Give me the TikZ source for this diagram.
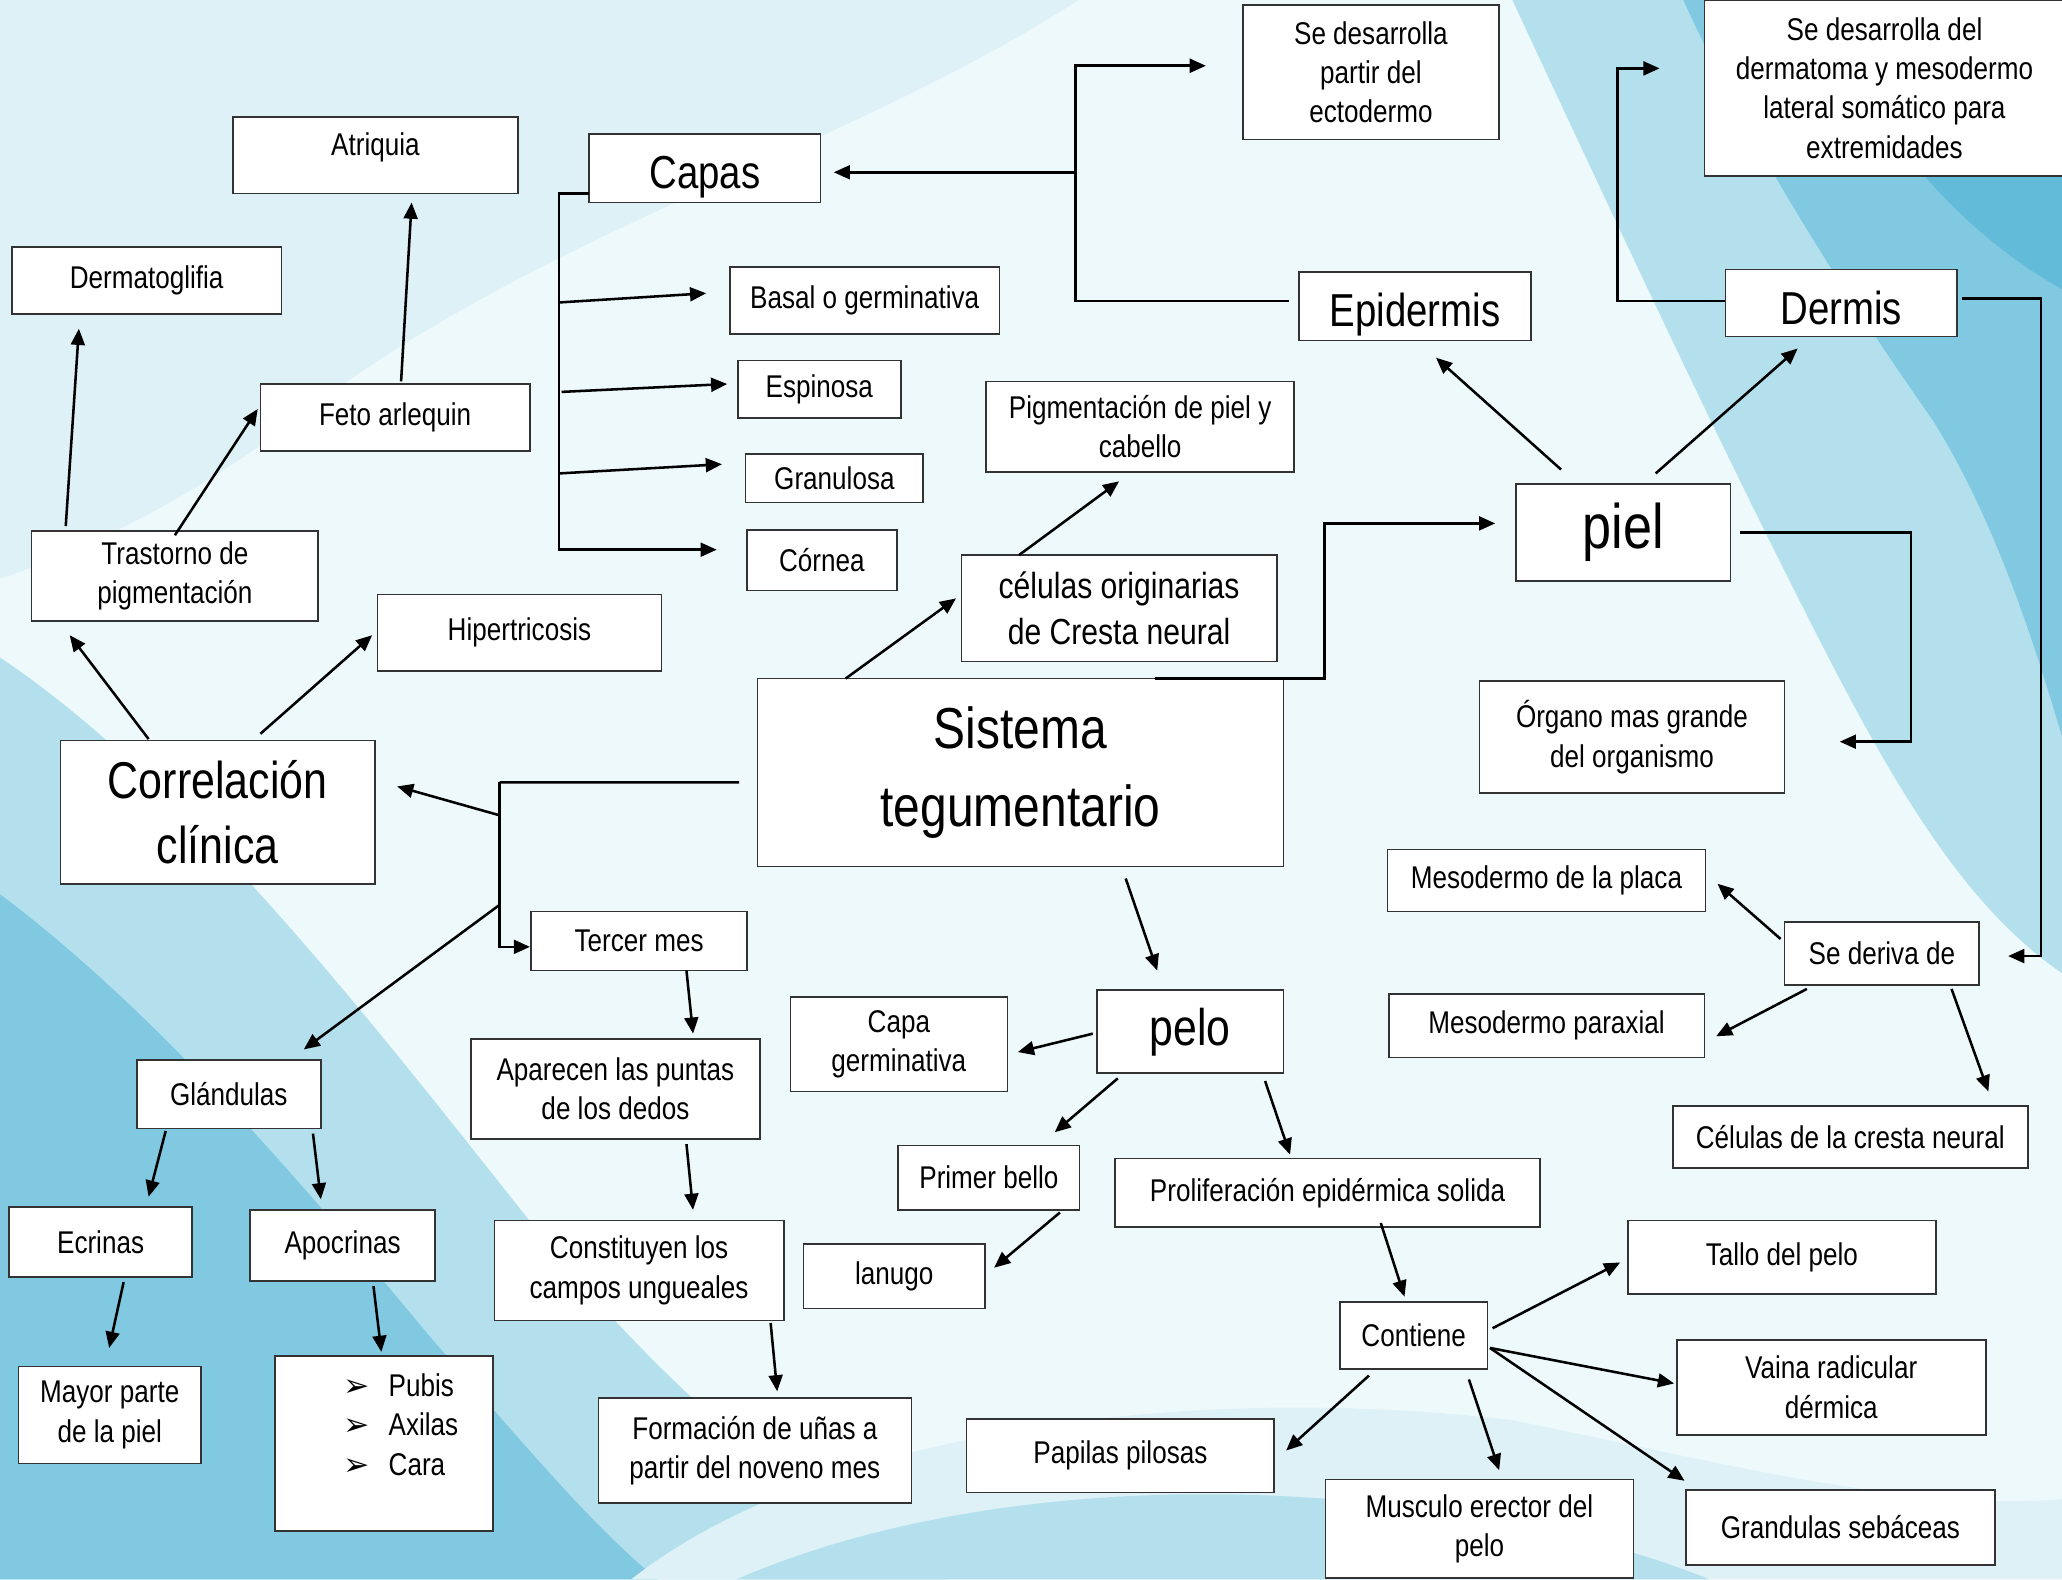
\documentclass[tikz,border=0pt]{standalone}
\usepackage{fontspec}
\setmainfont[FakeStretch=0.83]{Liberation Sans}
\newfontfamily\symfont{DejaVu Sans}
\usetikzlibrary{arrows.meta,calc}

\newlength\pxu
\setlength\pxu{0.02cm}

\definecolor{agua0}{HTML}{EEF9FC}
\definecolor{agua1}{HTML}{DDF1F7}
\definecolor{agua2}{HTML}{B4E0EE}
\definecolor{agua3}{HTML}{80C9E1}
\definecolor{agua4}{HTML}{62BBD9}

\tikzset{
  box/.style={draw=black!80, fill=white, line width=0.7pt, inner sep=0pt, align=center,
    font=\fontsize{13.6}{17}\selectfont},
  sz/.style 2 args={minimum width=#1\pxu, minimum height=#2\pxu},
  tb/.style 2 args={text height=#1\pxu, text depth=#2\pxu},
  med/.style={font=\fontsize{15.7}{19.8}\selectfont},
  big/.style={font=\fontsize{20}{24}\selectfont},
  huge/.style={font=\fontsize{22.4}{28.3}\selectfont},
  top/.style={font=\fontsize{25}{34}\selectfont},
  arr/.style={line width=1.1pt, -{Triangle[length=7pt,width=6pt]}},
  ln/.style={line width=1.1pt}
}

\begin{document}
\begin{tikzpicture}[x=0.02cm, y=-0.02cm]
\useasboundingbox (0,0) rectangle (1568,1201);

% fondo acuarela
\fill[agua0] (0,0) rectangle (1568,1201);
\fill[agua1] (0,0) -- (820,0) .. controls (650,110) and (430,170) .. (250,300) .. controls (150,380) and (60,420) .. (0,440) -- cycle;
\fill[agua2] (1150,0) .. controls (1220,150) and (1290,300) .. (1350,420) .. controls (1420,560) and (1480,680) .. (1568,740) -- (1568,0) -- cycle;
\fill[agua3] (1280,0) .. controls (1330,110) and (1400,220) .. (1470,320) .. controls (1520,400) and (1550,500) .. (1568,560) -- (1568,0) -- cycle;
\fill[agua4] (1380,0) .. controls (1420,90) and (1480,170) .. (1568,220) -- (1568,0) -- cycle;
\fill[agua2] (0,500) .. controls (150,600) and (300,800) .. (420,950) .. controls (520,1070) and (620,1150) .. (720,1201) -- (0,1201) -- cycle;
\fill[agua3] (0,680) .. controls (120,770) and (230,900) .. (330,1020) .. controls (400,1100) and (450,1160) .. (500,1201) -- (0,1201) -- cycle;
\fill[agua1] (480,1201) .. controls (620,1090) and (900,1050) .. (1150,1080) .. controls (1300,1110) and (1450,1150) .. (1568,1140) -- (1568,1201) -- cycle;
\fill[agua2] (560,1201) .. controls (700,1140) and (900,1120) .. (1100,1150) .. controls (1200,1165) and (1260,1185) .. (1300,1201) -- cycle;

% centro
\node[box, top, sz={400}{143}] (sist) at (776,587.5) {Sistema\\tegumentario};

% piel
\node[box, font=\fontsize{27.2}{30}\selectfont, sz={163}{74}] (piel) at (1234.5,405) {piel};
\node[box, big, minimum width=176\pxu, tb={41.5}{10.5}] (epid) at (1076,233) {Epidermis};
\node[box, big, minimum width=176\pxu, tb={41.5}{9.5}] (dermis) at (1400,230.5) {Dermis};
\node[box, sz={195}{102}] (ecto) at (1042.5,55) {Se desarrolla\\partir del\\ectodermo};
\node[box, sz={274}{134}] (dermato) at (1433,67) {Se desarrolla del\\dermatoma y mesodermo\\lateral somático para\\extremidades};
\node[box, sz={232}{85}] (organo) at (1241,560.5) {Órgano mas grande\\del organismo};
\node[box, sz={148}{48}] (deriva) at (1431,725) {Se deriva de};
\node[box, sz={242}{47}] (mplaca) at (1176,669.5) {Mesodermo de la placa};
\node[box, sz={240}{48}] (mparax) at (1176,780) {Mesodermo paraxial};
\node[box, sz={270}{47}] (ccresta) at (1407,864.5) {Células de la cresta neural};

% capas
\node[box, big, minimum width=176\pxu, tb={41.5}{10.5}] (capas) at (536,128) {Capas};
\node[box, sz={205}{51}] (basal) at (657.5,228.5) {Basal o germinativa};
\node[box, sz={124}{44}] (espin) at (623,296) {Espinosa};
\node[box, sz={135}{37}] (granu) at (634.5,363.5) {Granulosa};
\node[box, sz={114}{46}] (cornea) at (625,426) {Córnea};

% cresta neural
\node[box, med, sz={240}{81}] (cresta) at (851,462.5) {células originarias\\de Cresta neural};
\node[box, sz={234}{69}] (pigm) at (867,324.5) {Pigmentación de piel y\\cabello};

% correlacion clinica
\node[box, huge, sz={239}{109}] (correl) at (165.5,617.5) {Correlación\\clínica};
\node[box, sz={218}{68}] (trast) at (133,438) {Trastorno de\\pigmentación};
\node[box, sz={216}{58}] (hiper) at (395,481) {Hipertricosis};
\node[box, sz={205}{51}] (dglif) at (111.5,213.5) {Dermatoglifia};
\node[box, sz={205}{51}] (feto) at (300.5,317.5) {Feto arlequin};
\node[box, minimum width=217\pxu, tb={29}{29}] (atr) at (285.5,118) {Atriquia};

% glandulas
\node[box, sz={140}{52}] (gland) at (174,832) {Glándulas};
\node[box, sz={139}{53}] (ecrin) at (76.5,944.5) {Ecrinas};
\node[box, sz={141}{54}] (apocr) at (260.5,947) {Apocrinas};
\node[box, sz={139}{74}] (mayor) at (83.5,1076) {Mayor parte\\de la piel};
\node[box, minimum width=166\pxu, tb={31}{102}] (lista) at (292,1097.5)
  {\begin{tabular}[t]{@{\hspace{26\pxu}}l@{\hspace{14\pxu}}l@{}}
   {\symfont ➢} & Pubis\\ {\symfont ➢} & Axilas\\ {\symfont ➢} & Cara
   \end{tabular}};

% uñas
\node[box, sz={164}{45}] (tercer) at (486,715.5) {Tercer mes};
\node[box, sz={220}{76}] (apar) at (468,828) {Aparecen las puntas\\de los dedos};
\node[box, sz={220}{76}] (const) at (486,966) {Constituyen los\\campos ungueales};
\node[box, sz={238}{80}] (unas) at (574,1103) {Formación de uñas a\\partir del noveno mes};

% pelo
\node[box, font=\fontsize{22.3}{26}\selectfont, sz={142}{63}] (pelo) at (905,784.5) {pelo};
\node[box, sz={165}{72}] (capag) at (683.5,794) {Capa\\germinativa};
\node[box, sz={138}{49}] (primer) at (752,895.5) {Primer bello};
\node[box, sz={138}{49}] (lanugo) at (680,970.5) {lanugo};
\node[box, sz={323}{52}] (prolif) at (1009.5,907) {Proliferación epidérmica solida};
\node[box, sz={112}{51}] (contiene) at (1075,1015.5) {Contiene};
\node[box, sz={234}{56}] (tallo) at (1355,956) {Tallo del pelo};
\node[box, sz={235}{72}] (vaina) at (1392.5,1055) {Vaina radicular\\dérmica};
\node[box, sz={235}{57}] (grand) at (1399.5,1161.5) {Grandulas sebáceas};
\node[box, sz={234}{75}] (musculo) at (1125,1162.5) {Musculo erector del\\pelo};
\node[box, sz={234}{56}] (papilas) at (852,1107) {Papilas pilosas};

% puntos de quiebre
\coordinate (ebk) at (818,229);
\coordinate (cbk) at (425,147);
\coordinate (sbk) at (380,595);

% conectores piel
\draw[arr] ($(sist)+(102,-71.5)$) -- ++(129,0) |- ($(piel)+(-97.5,-7)$);
\draw[arr] ($(piel)+(-47.5,-48)$) -- ($(epid)+(16,39)$);
\draw[arr] ($(piel)+(24.5,-45)$) -- ($(dermis)+(-33,34.5)$);
\draw[arr] ($(piel)+(88.5,0)$) -- ++(130,0) |- ($(organo)+(158,3.5)$);
\draw[arr] ($(epid)+(-96,-4)$) -- (ebk) |- ($(ecto)+(-125.5,-5)$);
\draw[arr] ($(ebk)+(0,-98)$) -- ($(capas)+(98,3)$);
\draw[arr] ($(dermis)+(-88,-1.5)$) -- ++(-82,0) |- ($(dermato)+(-171,-15)$);
\draw[arr] ($(dermis)+(92,-3.5)$) -- ++(60,0) |- ($(deriva)+(96,2)$);
\draw[arr] ($(deriva)+(-77,-11)$) -- ($(mplaca)+(130,2.5)$);
\draw[arr] ($(deriva)+(-57,27)$) -- ($(mparax)+(129,8)$);
\draw[arr] ($(deriva)+(53,27)$) -- ($(ccresta)+(105,-34.5)$);

% conectores capas
\draw[arr] ($(capas)+(-88,19)$) -- (cbk) |- ($(cornea)+(-80,-8)$);
\draw[arr] ($(cbk)+(0,83)$) -- ($(basal)+(-120.5,-5.5)$);
\draw[arr] ($(cbk)+(2,151)$) -- ($(espin)+(-70,-4)$);
\draw[arr] ($(cbk)+(0,213)$) -- ($(granu)+(-85.5,-10.5)$);

% conectores cresta
\draw[arr] ($(sist)+(-133,-71.5)$) -- ($(cresta)+(-124,-7.5)$);
\draw[arr] ($(cresta)+(-76,-40.5)$) -- ($(pigm)+(-16,41.5)$);

% conectores correlacion
\draw[ln] ($(sist)+(-214,7.5)$) -- (sbk);
\draw[arr] (sbk) |- ($(tercer)+(-83,4.5)$);
\draw[arr] ($(sbk)+(0,25)$) -- ($(correl)+(136.5,-19.5)$);
\draw[arr] ($(sbk)+(0,93)$) -- ($(gland)+(57,-34)$);
\draw[arr] ($(correl)+(-52.5,-55.5)$) -- ($(trast)+(-80,45)$);
\draw[arr] ($(correl)+(32.5,-59.5)$) -- ($(hiper)+(-112,2)$);
\draw[arr] ($(trast)+(-83,-38)$) -- ($(dglif)+(-51.5,36.5)$);
\draw[arr] ($(trast)+(0,-31)$) -- ($(feto)+(-104.5,-6.5)$);
\draw[arr] ($(feto)+(4.5,-27.5)$) -- ($(atr)+(27.5,36)$);

% conectores glandulas
\draw[arr] ($(gland)+(-48,28)$) -- ($(ecrin)+(36.5,-34.5)$);
\draw[arr] ($(gland)+(64,30)$) -- ($(apocr)+(-16.5,-35)$);
\draw[arr] ($(ecrin)+(17.5,30.5)$) -- ($(mayor)+(-0.5,-51)$);
\draw[arr] ($(apocr)+(23.5,31)$) -- ($(lista)+(-2,-69.5)$);

% conectores uñas
\draw[arr] ($(tercer)+(36,22.5)$) -- ($(apar)+(59,-42)$);
\draw[arr] ($(apar)+(54,42)$) -- ($(const)+(41,-46)$);
\draw[arr] ($(const)+(100,40)$) -- ($(unas)+(17,-45)$);

% conectores pelo
\draw[arr] ($(sist)+(80,80.5)$) -- ($(pelo)+(-25,-46.5)$);
\draw[arr] ($(pelo)+(-74,1.5)$) -- ($(capag)+(90.5,6)$);
\draw[arr] ($(pelo)+(-55,35.5)$) -- ($(primer)+(50,-34.5)$);
\draw[arr] ($(pelo)+(57,37.5)$) -- ($(prolif)+(-28.5,-29)$);
\draw[arr] ($(primer)+(54,26.5)$) -- ($(lanugo)+(76,-6.5)$);
\draw[arr] ($(prolif)+(40.5,23)$) -- ($(contiene)+(-7,-29.5)$);
\draw[arr] ($(contiene)+(60,-5.5)$) -- ($(tallo)+(-123,4)$);
\draw[arr] ($(contiene)+(58,9.5)$) -- ($(vaina)+(-119.5,-3)$);
\draw[arr] ($(contiene)+(58,9.5)$) -- ($(grand)+(-118.5,-35.5)$);
\draw[arr] ($(contiene)+(42,33.5)$) -- ($(musculo)+(15,-44.5)$);
\draw[arr] ($(contiene)+(-34,30.5)$) -- ($(papilas)+(126,-4)$);
\end{tikzpicture}
\end{document}
